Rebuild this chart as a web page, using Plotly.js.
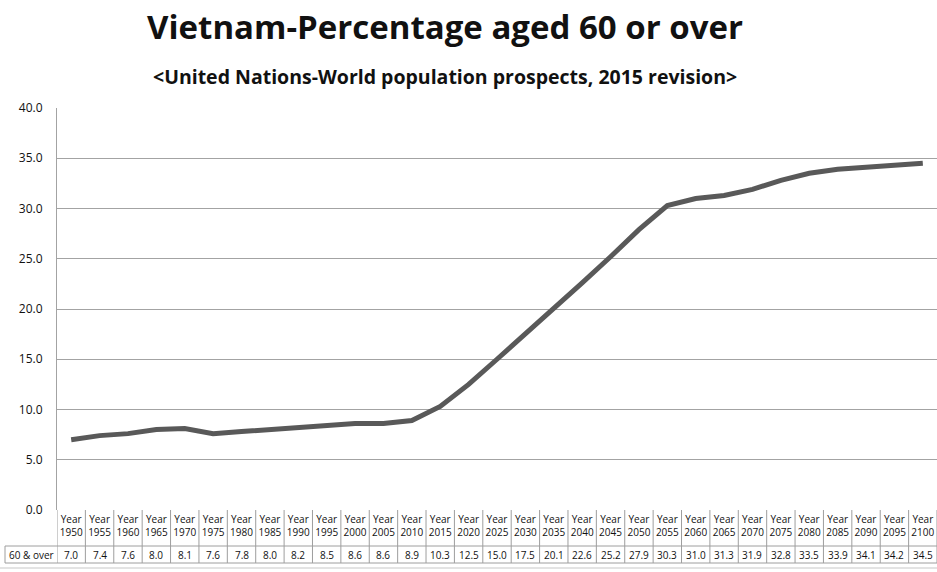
<!DOCTYPE html>
<html>
<head>
<meta charset="utf-8">
<script src="https://cdn.plot.ly/plotly-3.0.1.min.js"></script>
<style>
  html, body { margin: 0; padding: 0; background: #ffffff; }
  #chart { width: 937px; height: 572px; }
</style>
</head>
<body>
<div id="chart"></div>
<script>
// Vietnam: share of the population aged 60 or over (UN WPP 2015 revision)
const years = [1950, 1955, 1960, 1965, 1970, 1975, 1980, 1985, 1990, 1995, 2000,
               2005, 2010, 2015, 2020, 2025, 2030, 2035, 2040, 2045, 2050, 2055,
               2060, 2065, 2070, 2075, 2080, 2085, 2090, 2095, 2100];
const aged60Plus = [7.0, 7.4, 7.6, 8.0, 8.1, 7.6, 7.8, 8.0, 8.2, 8.5, 8.6,
                    8.6, 8.9, 10.3, 12.5, 15.0, 17.5, 20.1, 22.6, 25.2, 27.9, 30.3,
                    31.0, 31.3, 31.9, 32.8, 33.5, 33.9, 34.1, 34.2, 34.5];
const rowLabel = '60 &amp; over';
const yTickValues = [0, 5, 10, 15, 20, 25, 30, 35, 40];
const chartTitle = 'Vietnam-Percentage aged 60 or over';
const chartSubtitle = '&lt;United Nations-World population prospects, 2015 revision&gt;';

// page geometry (pixels)
const W = 937, H = 572;
const M = { l: 57, r: 0, t: 108, b: 62 };
const plotW = W - M.l - M.r;
const plotH = H - M.t - M.b;
const pyBelow = d => -d / plotH;      // pixels below the x axis -> paper y
const pxLeft = d => -d / plotW;       // pixels left of the y axis -> paper x

const gridColor = '#a3a3a3';
const cellColor = '#9e9e9e';
const textFont = 'Open Sans, Noto Sans, sans-serif';

const cats = years.map(String);
const n = cats.length;
const headerBottom = pyBelow(36);
const rowBottom = pyBelow(53);

// data-table cell borders underneath the axis
const shapes = [];
for (let i = 0; i <= n; i++) {
  shapes.push({
    type: 'line', xref: 'x', yref: 'paper',
    x0: i - 0.5, x1: i - 0.5, y0: 0, y1: rowBottom,
    line: { color: cellColor, width: 1 }
  });
}
[headerBottom, rowBottom].forEach(y => shapes.push({
  type: 'line', xref: 'paper', yref: 'paper',
  x0: pxLeft(52), x1: 1, y0: y, y1: y,
  line: { color: cellColor, width: 1 }
}));
shapes.push({
  type: 'line', xref: 'paper', yref: 'paper',
  x0: pxLeft(52), x1: pxLeft(52), y0: headerBottom, y1: rowBottom,
  line: { color: cellColor, width: 1 }
});
// outer frame line at the bottom of the chart area
shapes.push({
  type: 'line', xref: 'paper', yref: 'paper',
  x0: pxLeft(M.l), x1: 1, y0: pyBelow(58), y1: pyBelow(58),
  line: { color: '#dadada', width: 1.5 }
});

// value row of the data table (category axes take serial positions)
const rowMid = (headerBottom + rowBottom) / 2;
const annotations = aged60Plus.map((v, i) => ({
  xref: 'x', yref: 'paper', x: i, y: rowMid,
  text: v.toFixed(1), showarrow: false, yanchor: 'middle', xanchor: 'center',
  font: { family: textFont, size: 10, color: '#111111' }
}));
annotations.push({
  xref: 'paper', yref: 'paper', x: pxLeft(52) / 2, y: rowMid,
  text: rowLabel, showarrow: false, yanchor: 'middle', xanchor: 'center',
  font: { family: textFont, size: 10, color: '#111111' }
});
annotations.push({
  xref: 'paper', yref: 'paper', x: (445 - M.l) / plotW, y: 1 + 31 / plotH,
  text: '<b>' + chartSubtitle + '</b>', showarrow: false,
  xanchor: 'center', yanchor: 'middle',
  font: { family: textFont, size: 19.5, color: '#111111' }
});

const trace = {
  type: 'scatter', mode: 'lines',
  x: cats, y: aged60Plus,
  line: { color: '#595959', width: 5 },
  hoverinfo: 'skip'
};

const layout = {
  width: W, height: H,
  margin: M,
  paper_bgcolor: '#ffffff', plot_bgcolor: '#ffffff',
  showlegend: false,
  title: {
    text: '<b>' + chartTitle + '</b>',
    x: 445 / W, xanchor: 'center', xref: 'container',
    y: 1 - 27 / H, yanchor: 'middle', yref: 'container',
    font: { family: textFont, size: 33, color: '#111111' }
  },
  xaxis: {
    type: 'category', range: [-0.5, n - 0.5],
    tickvals: cats, ticktext: cats.map(c => 'Year<br>' + c),
    ticks: '', ticklabelstandoff: 2,
    showgrid: false, zeroline: false, showline: false,
    tickangle: 0,
    tickfont: { family: textFont, size: 10, color: '#111111' },
    fixedrange: true
  },
  yaxis: {
    range: [0, 40], tickvals: yTickValues, tickformat: '.1f',
    ticks: '', ticklabelstandoff: 11,
    showgrid: true, gridcolor: gridColor, gridwidth: 1,
    zeroline: false, showline: true, linecolor: gridColor, linewidth: 1,
    tickfont: { family: textFont, size: 12, color: '#111111' },
    fixedrange: true
  },
  shapes: shapes,
  annotations: annotations
};

Plotly.newPlot('chart', [trace], layout, { displayModeBar: false, staticPlot: true });
</script>
</body>
</html>
